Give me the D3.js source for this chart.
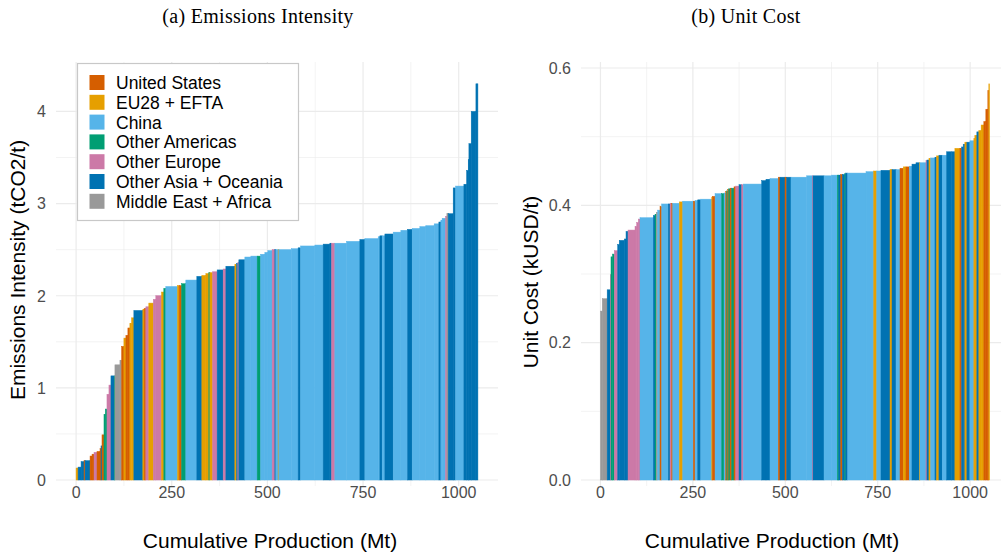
<!DOCTYPE html>
<meta charset="utf-8">
<script src="https://d3js.org/d3.v7.min.js"></script>
<style>
  body { margin: 0; background: #fff; }
  text { font-family: "Liberation Sans", Arial, sans-serif; }
</style>
<div id="chart"></div>
<script>

var regionKeys = ["US", "EU", "CN", "OAM", "OEU", "OAS", "MEA"];
var regionLabels = ["United States", "EU28 + EFTA", "China", "Other Americas",
                    "Other Europe", "Other Asia + Oceania", "Middle East + Africa"];
var regionColors = ["#D55E00", "#E69F00", "#56B4E9", "#009E73", "#CC79A7", "#0072B2", "#999999"];

// [region, production (Mt), emissions intensity (tCO2/t)], in plotted order
var intensityBars = [
  ["EU",5.2,0.13],["OAS",7.8,0.14],["OAS",7.8,0.20],["US",2.6,0.21],["OAS",13.1,0.21],
  ["US",5.2,0.26],["US",5.2,0.28],["OEU",7.8,0.30],["US",7.8,0.31],["US",2.6,0.34],
  ["OAS",2.6,0.37],["US",5.2,0.49],["OAM",3.4,0.71],["OAM",4.4,0.77],["OEU",5.2,0.93],
  ["OEU",5.2,1.03],["OAS",8.6,1.13],["OAM",1.8,1.13],["MEA",13.1,1.25],["MEA",4.4,1.30],
  ["US",6.0,1.45],["EU",5.2,1.54],["US",5.2,1.57],["US",5.2,1.65],["EU",4.4,1.70],
  ["EU",6.0,1.76],["OAS",23.5,1.84],["EU",3.4,1.85],["US",4.4,1.86],["OEU",7.8,1.88],
  ["EU",11.8,1.92],["OEU",6.5,1.96],["OEU",14.9,2.00],["EU",6.0,2.04],["OAM",5.2,2.08],
  ["CN",30.6,2.10],["EU",4.2,2.11],["US",6.3,2.11],["OAM",11.2,2.13],["CN",28.8,2.17],
  ["OAS",13.1,2.21],["EU",10.5,2.22],["EU",7.8,2.24],["OAM",2.6,2.25],["EU",7.1,2.25],
  ["OEU",12.0,2.26],["OAS",15.7,2.28],["OEU",7.1,2.29],["OAS",23.5,2.32],["EU",4.4,2.34],
  ["OAS",3.4,2.35],["OEU",2.6,2.36],["OAS",15.7,2.39],["CN",15.7,2.42],["CN",16.5,2.43],
  ["OAM",8.9,2.43],["CN",11.2,2.45],["CN",7.8,2.47],["CN",11.2,2.49],["OEU",7.1,2.50],
  ["OAS",2.6,2.50],["CN",6.0,2.50],["EU",1.8,2.50],["CN",33.2,2.50],["CN",17.3,2.51],
  ["OAS",6.3,2.52],["CN",37.4,2.54],["CN",21.7,2.55],["OAS",17.5,2.56],["OAS",4.4,2.57],
  ["OEU",8.6,2.57],["CN",30.6,2.57],["CN",34.8,2.59],["OAS",13.1,2.61],["CN",34.8,2.62],
  ["CN",4.4,2.64],["OAS",6.0,2.65],["CN",7.1,2.65],["OAS",21.7,2.67],["CN",20.1,2.69],
  ["CN",17.5,2.71],["OAS",12.0,2.72],["CN",20.1,2.73],["CN",15.7,2.75],["CN",21.7,2.76],
  ["CN",12.3,2.78],["OAS",5.2,2.80],["CN",3.4,2.82],["CN",8.9,2.84],["OEU",3.4,2.86],
  ["MEA",3.4,2.89],["OAS",13.1,2.89],["OAS",6.3,3.17],["CN",21.7,3.19],["OAS",7.1,3.21],
  ["OAS",4.2,3.36],["OAS",1.8,3.48],["OAS",6.0,3.65],["OAS",12.3,4.00],["OAS",5.2,4.30]
];

// [region, production (Mt), unit cost (kUSD/t)], in plotted order
var costBars = [
  ["MEA",4.9,0.246],["MEA",13.3,0.264],["OAS",8.4,0.277],["OEU",1.9,0.299],["OAM",4.1,0.325],
  ["OAM",4.9,0.329],["OEU",9.2,0.334],["OAS",4.1,0.343],["OAS",13.8,0.349],["OAS",4.6,0.351],
  ["OAS",5.4,0.362],["OEU",18.9,0.364],["OEU",4.6,0.369],["OEU",4.3,0.375],["OEU",4.6,0.380],
  ["CN",36.0,0.382],["OAS",4.6,0.385],["OAM",3.5,0.387],["MEA",3.8,0.390],["CN",6.2,0.393],
  ["US",4.6,0.398],["CN",17.9,0.402],["OAS",4.6,0.402],["OEU",4.6,0.403],["US",2.7,0.403],
  ["CN",17.9,0.403],["EU",9.2,0.405],["CN",28.7,0.406],["US",4.6,0.406],["CN",7.3,0.407],
  ["OAS",8.1,0.408],["CN",29.8,0.409],["EU",1.6,0.412],["US",7.3,0.413],["CN",18.1,0.417],
  ["OAM",6.2,0.417],["CN",4.6,0.418],["US",2.7,0.420],["OAM",2.7,0.421],["US",2.7,0.423],
  ["OAM",3.5,0.424],["US",4.6,0.425],["OAM",6.2,0.425],["US",4.6,0.427],["OEU",8.9,0.428],
  ["OAS",7.3,0.430],["OEU",4.3,0.430],["CN",49.8,0.431],["OAS",11.6,0.436],["OAS",10.8,0.438],
  ["CN",22.5,0.439],["US",4.6,0.441],["OAS",13.5,0.441],["US",4.6,0.441],["OAS",11.6,0.441],
  ["CN",42.5,0.441],["CN",15.2,0.443],["OEU",1.9,0.443],["OAS",29.8,0.443],["CN",20.8,0.443],
  ["CN",15.2,0.444],["OAM",3.8,0.444],["OAS",5.4,0.444],["US",4.3,0.445],["OAS",6.5,0.445],
  ["OAM",2.7,0.446],["OAS",5.4,0.447],["CN",49.5,0.447],["CN",20.8,0.449],["EU",8.1,0.450],
  ["CN",11.6,0.450],["OAS",24.4,0.451],["EU",5.4,0.452],["OAS",10.8,0.452],["CN",10.8,0.452],
  ["US",8.9,0.454],["EU",7.3,0.456],["US",8.9,0.456],["CN",7.3,0.457],["OAS",10.8,0.460],
  ["OAS",8.9,0.462],["EU",1.9,0.462],["CN",16.2,0.462],["OEU",2.7,0.465],["OAS",5.4,0.466],
  ["EU",4.6,0.468],["CN",11.6,0.469],["OAS",4.6,0.470],["EU",6.2,0.472],["OAS",8.9,0.473],
  ["CN",11.9,0.473],["OAS",13.5,0.478],["OAS",8.9,0.478],["EU",13.5,0.483],["US",4.6,0.483],
  ["OAS",4.3,0.485],["OAS",4.6,0.489],["EU",5.4,0.492],["OAS",8.1,0.492],["CN",10.8,0.494],
  ["EU",2.7,0.497],["EU",5.4,0.502],["OAS",5.4,0.507],["EU",6.2,0.509],["EU",7.3,0.517],
  ["US",5.4,0.522],["US",5.4,0.540],["US",2.7,0.567],["EU",1.9,0.577]
];

var xTicks = [0, 250, 500, 750, 1000];
var xMinor = [125, 375, 625, 875];
var intensityTicks = [0, 1, 2, 3, 4];
var intensityMinor = [0.5, 1.5, 2.5, 3.5];
var costTicks = [0, 0.2, 0.4, 0.6];
var costMinor = [0.1, 0.3, 0.5];

var color = d3.scaleOrdinal(regionKeys, regionColors);

var svg = d3.select("#chart").append("svg")
    .attr("width", 1001)
    .attr("height", 554);

function drawPanel(p) {
  var total = d3.sum(p.bars, function(d) { return d[1]; });
  var ymax = d3.max(p.bars, function(d) { return d[2]; });
  var x = d3.scaleLinear().domain([-0.05 * total, 1.05 * total]).range([p.left, p.right]);
  var y = d3.scaleLinear().domain([0, ymax * 1.05]).range([480, 64]);
  var top = 62, bottom = 486;

  var g = svg.append("g");

  // grid
  g.selectAll(".yminor").data(p.yMinor).join("line")
      .attr("x1", p.left).attr("x2", p.right)
      .attr("y1", function(d) { return y(d); }).attr("y2", function(d) { return y(d); })
      .attr("stroke", "#EBEBEB").attr("stroke-width", 0.6);
  g.selectAll(".xminor").data(xMinor).join("line")
      .attr("y1", top).attr("y2", bottom)
      .attr("x1", function(d) { return x(d); }).attr("x2", function(d) { return x(d); })
      .attr("stroke", "#EBEBEB").attr("stroke-width", 0.6);
  g.selectAll(".ymajor").data(p.yTicks).join("line")
      .attr("x1", p.left).attr("x2", p.right)
      .attr("y1", function(d) { return y(d); }).attr("y2", function(d) { return y(d); })
      .attr("stroke", "#EBEBEB").attr("stroke-width", 1.2);
  g.selectAll(".xmajor").data(xTicks).join("line")
      .attr("y1", top).attr("y2", bottom)
      .attr("x1", function(d) { return x(d); }).attr("x2", function(d) { return x(d); })
      .attr("stroke", "#EBEBEB").attr("stroke-width", 1.2);

  // bars
  var ends = d3.cumsum(p.bars, function(d) { return d[1]; });
  g.append("g").selectAll("rect").data(p.bars).join("rect")
      .attr("x", function(d, i) { return x(ends[i] - d[1]); })
      .attr("width", function(d, i) { return x(ends[i]) - x(ends[i] - d[1]); })
      .attr("y", function(d) { return y(d[2]); })
      .attr("height", function(d) { return y(0) - y(d[2]); })
      .attr("fill", function(d) { return color(d[0]); })
      .attr("stroke", function(d) { return color(d[0]); })
      .attr("stroke-width", 0.5);

  // tick labels
  g.selectAll(".xlab").data(xTicks).join("text")
      .attr("x", function(d) { return x(d); })
      .attr("y", 498)
      .attr("text-anchor", "middle")
      .attr("font-size", "16px")
      .attr("fill", "#4D4D4D")
      .text(function(d) { return d; });
  g.selectAll(".ylab").data(p.yTicks).join("text")
      .attr("x", p.left - 10)
      .attr("y", function(d) { return y(d) + 5.8; })
      .attr("text-anchor", "end")
      .attr("font-size", "16px")
      .attr("fill", "#4D4D4D")
      .text(p.yFormat);

  // axis titles
  g.append("text")
      .attr("x", p.xTitleX).attr("y", 548)
      .attr("text-anchor", "middle")
      .attr("font-size", "21px")
      .text("Cumulative Production (Mt)");
  g.append("text")
      .attr("transform", "translate(" + p.yTitleX + "," + p.yTitleY + ") rotate(-90)")
      .attr("text-anchor", "middle")
      .attr("font-size", "21px")
      .text(p.yTitle);

  // panel caption
  g.append("text")
      .attr("x", p.captionX).attr("y", 23)
      .attr("text-anchor", "middle")
      .style("font-family", "'Liberation Serif', 'Times New Roman', serif")
      .attr("font-size", "20px")
      .attr("letter-spacing", "0.3px")
      .text(p.caption);
}

drawPanel({
  bars: intensityBars, left: 56, right: 498,
  yTicks: intensityTicks, yMinor: intensityMinor,
  yFormat: function(d) { return d; },
  yTitle: "Emissions Intensity (tCO2/t)", yTitleX: 25, yTitleY: 270,
  xTitleX: 270, caption: "(a) Emissions Intensity", captionX: 258
});

drawPanel({
  bars: costBars, left: 581, right: 1009,
  yTicks: costTicks, yMinor: costMinor,
  yFormat: d3.format(".1f"),
  yTitle: "Unit Cost (kUSD/t)", yTitleX: 538, yTitleY: 282,
  xTitleX: 772, caption: "(b) Unit Cost", captionX: 746
});

// legend
var legend = svg.append("g").attr("transform", "translate(77.5,63.5)");
legend.append("rect")
    .attr("width", 221).attr("height", 157)
    .attr("fill", "#fff")
    .attr("stroke", "#C8C8C8").attr("stroke-width", 1.2);
var items = legend.selectAll(".item").data(regionKeys).join("g")
    .attr("transform", function(d, i) { return "translate(12," + (11.5 + i * 19.8) + ")"; });
items.append("rect")
    .attr("width", 15).attr("height", 15)
    .attr("fill", function(d) { return color(d); });
items.append("text")
    .attr("x", 26.5).attr("y", 14)
    .attr("font-size", "17.5px")
    .text(function(d, i) { return regionLabels[i]; });

</script>
